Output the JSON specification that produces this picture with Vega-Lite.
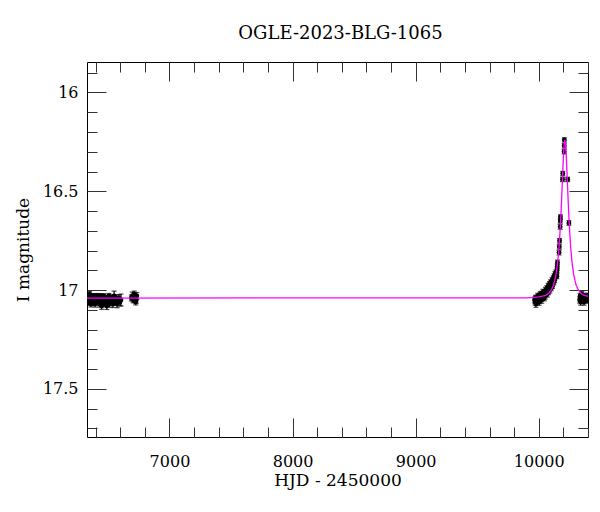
{
  "$schema": "https://vega.github.io/schema/vega-lite/v6.json",
  "width": 501,
  "height": 375,
  "autosize": "none",
  "padding": {"left": 87, "top": 62, "right": 12, "bottom": 75},
  "background": "white",
  "title": {"text": "OGLE-2023-BLG-1065", "font": "DejaVu Serif", "fontSize": 18, "fontWeight": "normal", "color": "black", "offset": 19, "frame": "group", "dx": 3},
  "config": {
    "view": {"stroke": "black", "strokeWidth": 1},
    "axis": {
      "labelFont": "DejaVu Serif", "labelFontSize": 16, "labelColor": "black",
      "titleFont": "DejaVu Serif", "titleFontSize": 17, "titleFontWeight": "normal", "titleColor": "black",
      "tickColor": "#333333", "tickWidth": 1, "grid": false, "domain": false, "labelFlush": false, "labelOverlap": false
    }
  },
  "datasets": {
    "obs": [
      {"t": 6336, "mag": 17.05, "err": 0.014}, {"t": 6339, "mag": 17.03, "err": 0.013}, {"t": 6342, "mag": 17.06, "err": 0.015},
      {"t": 6345, "mag": 17.04, "err": 0.012}, {"t": 6348, "mag": 17.05, "err": 0.014}, {"t": 6351, "mag": 17.02, "err": 0.013},
      {"t": 6354, "mag": 17.06, "err": 0.016}, {"t": 6357, "mag": 17.04, "err": 0.013}, {"t": 6360, "mag": 17.05, "err": 0.012},
      {"t": 6362, "mag": 17.07, "err": 0.015}, {"t": 6365, "mag": 17.03, "err": 0.013}, {"t": 6368, "mag": 17.05, "err": 0.014},
      {"t": 6371, "mag": 17.04, "err": 0.012}, {"t": 6374, "mag": 17.06, "err": 0.014}, {"t": 6377, "mag": 17.05, "err": 0.013},
      {"t": 6380, "mag": 17.03, "err": 0.012}, {"t": 6383, "mag": 17.04, "err": 0.013}, {"t": 6386, "mag": 17.06, "err": 0.015},
      {"t": 6389, "mag": 17.05, "err": 0.013}, {"t": 6392, "mag": 17.04, "err": 0.012}, {"t": 6395, "mag": 17.07, "err": 0.016},
      {"t": 6398, "mag": 17.05, "err": 0.013}, {"t": 6401, "mag": 17.03, "err": 0.012}, {"t": 6404, "mag": 17.04, "err": 0.013},
      {"t": 6407, "mag": 17.06, "err": 0.014}, {"t": 6410, "mag": 17.05, "err": 0.013}, {"t": 6413, "mag": 17.04, "err": 0.012},
      {"t": 6416, "mag": 17.05, "err": 0.014}, {"t": 6419, "mag": 17.03, "err": 0.013}, {"t": 6422, "mag": 17.06, "err": 0.015},
      {"t": 6425, "mag": 17.04, "err": 0.012}, {"t": 6428, "mag": 17.05, "err": 0.013}, {"t": 6431, "mag": 17.07, "err": 0.016},
      {"t": 6434, "mag": 17.04, "err": 0.013}, {"t": 6437, "mag": 17.05, "err": 0.014}, {"t": 6440, "mag": 17.06, "err": 0.013},
      {"t": 6443, "mag": 17.03, "err": 0.012}, {"t": 6446, "mag": 17.05, "err": 0.014}, {"t": 6449, "mag": 17.08, "err": 0.017},
      {"t": 6452, "mag": 17.04, "err": 0.013}, {"t": 6455, "mag": 17.05, "err": 0.012}, {"t": 6458, "mag": 17.06, "err": 0.014},
      {"t": 6461, "mag": 17.04, "err": 0.013}, {"t": 6464, "mag": 17.05, "err": 0.015}, {"t": 6467, "mag": 17.03, "err": 0.012},
      {"t": 6470, "mag": 17.06, "err": 0.014}, {"t": 6473, "mag": 17.05, "err": 0.013}, {"t": 6476, "mag": 17.07, "err": 0.015},
      {"t": 6479, "mag": 17.04, "err": 0.013}, {"t": 6482, "mag": 17.05, "err": 0.012}, {"t": 6485, "mag": 17.06, "err": 0.016},
      {"t": 6488, "mag": 17.04, "err": 0.013}, {"t": 6491, "mag": 17.08, "err": 0.018}, {"t": 6494, "mag": 17.05, "err": 0.014},
      {"t": 6497, "mag": 17.04, "err": 0.013}, {"t": 6500, "mag": 17.06, "err": 0.015}, {"t": 6504, "mag": 17.05, "err": 0.014},
      {"t": 6508, "mag": 17.03, "err": 0.013}, {"t": 6512, "mag": 17.07, "err": 0.016}, {"t": 6516, "mag": 17.05, "err": 0.014},
      {"t": 6520, "mag": 17.04, "err": 0.015}, {"t": 6525, "mag": 17.06, "err": 0.017}, {"t": 6530, "mag": 17.05, "err": 0.016},
      {"t": 6535, "mag": 17.04, "err": 0.015}, {"t": 6540, "mag": 17.07, "err": 0.018}, {"t": 6545, "mag": 17.05, "err": 0.016},
      {"t": 6550, "mag": 17.03, "err": 0.025}, {"t": 6556, "mag": 17.06, "err": 0.018}, {"t": 6562, "mag": 17.05, "err": 0.017},
      {"t": 6568, "mag": 17.04, "err": 0.016}, {"t": 6575, "mag": 17.07, "err": 0.019}, {"t": 6582, "mag": 17.05, "err": 0.018},
      {"t": 6590, "mag": 17.04, "err": 0.017}, {"t": 6598, "mag": 17.06, "err": 0.02}, {"t": 6606, "mag": 17.05, "err": 0.03},
      {"t": 6690, "mag": 17.04, "err": 0.015}, {"t": 6698, "mag": 17.03, "err": 0.02}, {"t": 6705, "mag": 17.05, "err": 0.014},
      {"t": 6710, "mag": 17.04, "err": 0.013}, {"t": 6714, "mag": 17.02, "err": 0.015}, {"t": 6718, "mag": 17.05, "err": 0.013},
      {"t": 6722, "mag": 17.04, "err": 0.014}, {"t": 6726, "mag": 17.06, "err": 0.015}, {"t": 6730, "mag": 17.05, "err": 0.016},
      {"t": 6735, "mag": 17.03, "err": 0.018},
      {"t": 9966, "mag": 17.05, "err": 0.015}, {"t": 9970, "mag": 17.06, "err": 0.016}, {"t": 9973, "mag": 17.04, "err": 0.014},
      {"t": 9977, "mag": 17.07, "err": 0.017}, {"t": 9981, "mag": 17.05, "err": 0.015}, {"t": 9985, "mag": 17.04, "err": 0.014},
      {"t": 9988, "mag": 17.06, "err": 0.015}, {"t": 9992, "mag": 17.03, "err": 0.014}, {"t": 9995, "mag": 17.05, "err": 0.015},
      {"t": 9999, "mag": 17.04, "err": 0.013}, {"t": 10003, "mag": 17.06, "err": 0.016}, {"t": 10006, "mag": 17.03, "err": 0.014},
      {"t": 10010, "mag": 17.05, "err": 0.015}, {"t": 10013, "mag": 17.02, "err": 0.013}, {"t": 10017, "mag": 17.04, "err": 0.014},
      {"t": 10020, "mag": 17.03, "err": 0.015}, {"t": 10024, "mag": 17.05, "err": 0.016}, {"t": 10027, "mag": 17.02, "err": 0.014},
      {"t": 10031, "mag": 17.04, "err": 0.013}, {"t": 10034, "mag": 17.01, "err": 0.014}, {"t": 10038, "mag": 17.03, "err": 0.015},
      {"t": 10041, "mag": 17.02, "err": 0.013}, {"t": 10045, "mag": 17.04, "err": 0.014}, {"t": 10048, "mag": 17.01, "err": 0.013},
      {"t": 10052, "mag": 17.03, "err": 0.015}, {"t": 10055, "mag": 17.0, "err": 0.014}, {"t": 10059, "mag": 17.02, "err": 0.013},
      {"t": 10062, "mag": 17.01, "err": 0.014}, {"t": 10066, "mag": 16.99, "err": 0.013}, {"t": 10069, "mag": 17.02, "err": 0.015},
      {"t": 10073, "mag": 17.0, "err": 0.013}, {"t": 10076, "mag": 16.98, "err": 0.014}, {"t": 10080, "mag": 17.01, "err": 0.013},
      {"t": 10083, "mag": 16.99, "err": 0.014}, {"t": 10087, "mag": 16.97, "err": 0.013}, {"t": 10090, "mag": 17.0, "err": 0.014},
      {"t": 10094, "mag": 16.98, "err": 0.013}, {"t": 10097, "mag": 16.96, "err": 0.012}, {"t": 10101, "mag": 16.99, "err": 0.013},
      {"t": 10104, "mag": 16.97, "err": 0.012}, {"t": 10108, "mag": 16.95, "err": 0.013}, {"t": 10111, "mag": 16.98, "err": 0.012},
      {"t": 10115, "mag": 16.96, "err": 0.013}, {"t": 10118, "mag": 16.94, "err": 0.012}, {"t": 10122, "mag": 16.96, "err": 0.013},
      {"t": 10125, "mag": 16.93, "err": 0.012}, {"t": 10129, "mag": 16.95, "err": 0.012}, {"t": 10132, "mag": 16.92, "err": 0.013},
      {"t": 10136, "mag": 16.93, "err": 0.012}, {"t": 10139, "mag": 16.91, "err": 0.012}, {"t": 10143, "mag": 16.92, "err": 0.013},
      {"t": 10147, "mag": 16.93, "err": 0.012}, {"t": 10149, "mag": 16.9, "err": 0.012}, {"t": 10150, "mag": 16.88, "err": 0.012},
      {"t": 10152, "mag": 16.86, "err": 0.012}, {"t": 10165, "mag": 16.81, "err": 0.012}, {"t": 10167, "mag": 16.78, "err": 0.012},
      {"t": 10169, "mag": 16.75, "err": 0.011}, {"t": 10174, "mag": 16.68, "err": 0.012}, {"t": 10175, "mag": 16.65, "err": 0.011},
      {"t": 10176, "mag": 16.63, "err": 0.011}, {"t": 10193, "mag": 16.44, "err": 0.011}, {"t": 10195, "mag": 16.41, "err": 0.011},
      {"t": 10206, "mag": 16.3, "err": 0.011}, {"t": 10207, "mag": 16.27, "err": 0.011}, {"t": 10208, "mag": 16.24, "err": 0.011},
      {"t": 10235, "mag": 16.44, "err": 0.011}, {"t": 10245, "mag": 16.66, "err": 0.012},
      {"t": 10332, "mag": 17.05, "err": 0.015}, {"t": 10336, "mag": 17.03, "err": 0.014}, {"t": 10340, "mag": 17.06, "err": 0.016},
      {"t": 10345, "mag": 17.04, "err": 0.014}, {"t": 10350, "mag": 17.02, "err": 0.013}, {"t": 10356, "mag": 17.05, "err": 0.015},
      {"t": 10362, "mag": 17.04, "err": 0.014}, {"t": 10368, "mag": 17.06, "err": 0.016}, {"t": 10374, "mag": 17.03, "err": 0.014},
      {"t": 10380, "mag": 17.05, "err": 0.015}, {"t": 10386, "mag": 17.04, "err": 0.014}, {"t": 10392, "mag": 17.05, "err": 0.015},
      {"t": 10397, "mag": 17.03, "err": 0.014}
    ],
    "model": [
      {"t": 6330, "mag": 17.04}, {"t": 9900, "mag": 17.039}, {"t": 9965, "mag": 17.037}, {"t": 10000, "mag": 17.034},
      {"t": 10030, "mag": 17.03}, {"t": 10060, "mag": 17.025}, {"t": 10080, "mag": 17.017}, {"t": 10100, "mag": 17.002},
      {"t": 10120, "mag": 16.975}, {"t": 10130, "mag": 16.951}, {"t": 10140, "mag": 16.922}, {"t": 10150, "mag": 16.879},
      {"t": 10155, "mag": 16.851}, {"t": 10160, "mag": 16.818}, {"t": 10165, "mag": 16.779}, {"t": 10170, "mag": 16.733},
      {"t": 10175, "mag": 16.68}, {"t": 10180, "mag": 16.619}, {"t": 10185, "mag": 16.55}, {"t": 10190, "mag": 16.476},
      {"t": 10195, "mag": 16.4}, {"t": 10200, "mag": 16.328}, {"t": 10206, "mag": 16.264}, {"t": 10212, "mag": 16.24},
      {"t": 10218, "mag": 16.264}, {"t": 10224, "mag": 16.328}, {"t": 10229, "mag": 16.4}, {"t": 10234, "mag": 16.476},
      {"t": 10239, "mag": 16.55}, {"t": 10244, "mag": 16.619}, {"t": 10249, "mag": 16.68}, {"t": 10254, "mag": 16.733},
      {"t": 10259, "mag": 16.779}, {"t": 10264, "mag": 16.818}, {"t": 10269, "mag": 16.851}, {"t": 10274, "mag": 16.879},
      {"t": 10284, "mag": 16.922}, {"t": 10294, "mag": 16.951}, {"t": 10304, "mag": 16.975}, {"t": 10324, "mag": 17.002},
      {"t": 10344, "mag": 17.017}, {"t": 10364, "mag": 17.025}, {"t": 10400, "mag": 17.031}
    ]
  },
  "layer": [
    {
      "data": {"name": "obs"},
      "mark": {"type": "errorbar", "color": "black", "thickness": 1.2, "ticks": {"size": 5, "color": "black"}, "clip": true},
      "encoding": {
        "x": {"field": "t", "type": "quantitative", "scale": {"domain": [6330, 10400], "nice": false, "zero": false}, "axis": null},
        "y": {"field": "mag", "type": "quantitative", "scale": {"domain": [15.846, 17.743], "nice": false, "zero": false, "reverse": true}, "axis": null},
        "yError": {"field": "err"}
      }
    },
    {
      "data": {"name": "obs"},
      "mark": {"type": "point", "filled": true, "shape": "circle", "size": 24, "color": "black", "opacity": 1, "clip": true},
      "encoding": {
        "x": {"field": "t", "type": "quantitative", "scale": {"domain": [6330, 10400], "nice": false, "zero": false},
          "axis": {"orient": "top", "labels": false, "title": null, "values": [6400, 6600, 6800, 7000, 7200, 7400, 7600, 7800, 8000, 8200, 8400, 8600, 8800, 9000, 9200, 9400, 9600, 9800, 10000, 10200, 10400],
            "tickSize": {"condition": {"test": "datum.value % 1000 === 0", "value": -19}, "value": -10}}},
        "y": {"field": "mag", "type": "quantitative", "scale": {"domain": [15.846, 17.743], "nice": false, "zero": false, "reverse": true},
          "axis": {"orient": "right", "labels": false, "title": null, "values": [15.9, 16, 16.1, 16.2, 16.3, 16.4, 16.5, 16.6, 16.7, 16.8, 16.9, 17, 17.1, 17.2, 17.3, 17.4, 17.5, 17.6, 17.7],
            "tickSize": {"condition": {"test": "abs(datum.value * 2 - round(datum.value * 2)) < 0.01", "value": -19}, "value": -10}}}
      }
    },
    {
      "data": {"name": "model"},
      "mark": {"type": "line", "color": "#ff00ff", "strokeWidth": 1.3, "clip": true},
      "encoding": {
        "x": {"field": "t", "type": "quantitative", "scale": {"domain": [6330, 10400], "nice": false, "zero": false},
          "axis": {"orient": "bottom", "title": "HJD - 2450000", "titlePadding": -6, "labelPadding": 35, "values": [6400, 6600, 6800, 7000, 7200, 7400, 7600, 7800, 8000, 8200, 8400, 8600, 8800, 9000, 9200, 9400, 9600, 9800, 10000, 10200, 10400],
            "tickSize": {"condition": {"test": "datum.value % 1000 === 0", "value": -19}, "value": -10},
            "labelExpr": "datum.value % 1000 === 0 ? format(datum.value, 'd') : ''"}},
        "y": {"field": "mag", "type": "quantitative", "scale": {"domain": [15.846, 17.743], "nice": false, "zero": false, "reverse": true},
          "axis": {"orient": "left", "title": "I magnitude", "titlePadding": 10, "labelPadding": 28, "values": [15.9, 16, 16.1, 16.2, 16.3, 16.4, 16.5, 16.6, 16.7, 16.8, 16.9, 17, 17.1, 17.2, 17.3, 17.4, 17.5, 17.6, 17.7],
            "tickSize": {"condition": {"test": "abs(datum.value * 2 - round(datum.value * 2)) < 0.01", "value": -19}, "value": -10},
            "labelExpr": "abs(datum.value * 2 - round(datum.value * 2)) < 0.01 ? format(datum.value, '~g') : ''"}}
      }
    }
  ],
  "resolve": {"axis": {"x": "independent", "y": "independent"}}
}
